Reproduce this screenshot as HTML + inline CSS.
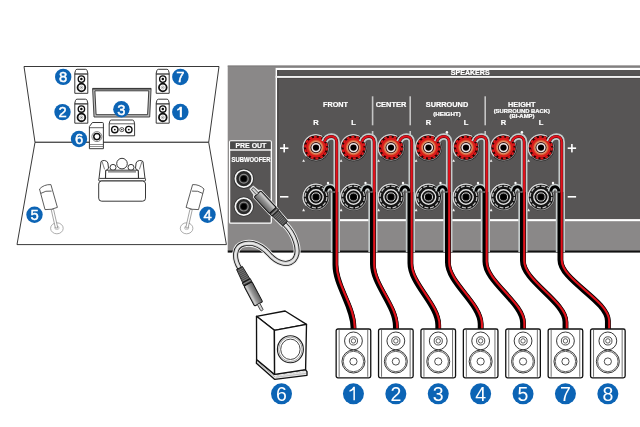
<!DOCTYPE html>
<html><head><meta charset="utf-8"><title>Speaker connection</title><style>html,body{margin:0;padding:0;background:#fff;}body{width:640px;height:427px;overflow:hidden;font-family:"Liberation Sans", sans-serif;}svg{display:block;transform:translateZ(0);}</style></head><body><svg width="640" height="427" viewBox="0 0 640 427"><defs><radialGradient id="redg" cx="0.5" cy="0.5" r="0.5"><stop offset="0.66" stop-color="#eaa680"/><stop offset="0.8" stop-color="#dc6a40"/><stop offset="0.93" stop-color="#da2418"/><stop offset="1" stop-color="#dc1818"/></radialGradient><linearGradient id="plugg" x1="0" y1="0" x2="0" y2="1"><stop offset="0" stop-color="#5e5e5e"/><stop offset="0.55" stop-color="#9a9a9a"/><stop offset="0.82" stop-color="#cdcdcd"/><stop offset="1" stop-color="#8a8a8a"/></linearGradient></defs><g fill="none" stroke="#222" stroke-width="0.9" stroke-linejoin="round"><polygon points="24,66.5 219,66.5 208.7,142.3 35,142.3" fill="#fff"/><polygon points="35,142.3 208.7,142.3 226.4,244.6 17,244.6" fill="#fff"/></g><g transform="translate(74.8,69.3)"><path d="M2.3,0 H10.7 Q11.9,0 12.3,1.2 L13,3.9 V24 H0 V3.9 L0.7,1.2 Q1.1,0 2.3,0 Z" fill="#fff" stroke="#222" stroke-width="0.9"/><line x1="0" y1="4.7" x2="13" y2="4.7" stroke="#111" stroke-width="1.1"/><circle cx="6.6" cy="9.8" r="3.2" fill="#fff" stroke="#111" stroke-width="1.35"/><circle cx="6.6" cy="9.8" r="1.25" fill="#111"/><circle cx="6.6" cy="18.2" r="3.85" fill="#fff" stroke="#111" stroke-width="1.8"/><circle cx="6.6" cy="18.2" r="1.5" fill="#fff" stroke="#888" stroke-width="0.6"/><circle cx="6.6" cy="18.2" r="0.6" fill="#666"/></g><g transform="translate(74.8,99.2)"><path d="M2.3,0 H10.7 Q11.9,0 12.3,1.2 L13,3.9 V24 H0 V3.9 L0.7,1.2 Q1.1,0 2.3,0 Z" fill="#fff" stroke="#222" stroke-width="0.9"/><line x1="0" y1="4.7" x2="13" y2="4.7" stroke="#111" stroke-width="1.1"/><circle cx="6.6" cy="9.8" r="3.2" fill="#fff" stroke="#111" stroke-width="1.35"/><circle cx="6.6" cy="9.8" r="1.25" fill="#111"/><circle cx="6.6" cy="18.2" r="3.85" fill="#fff" stroke="#111" stroke-width="1.8"/><circle cx="6.6" cy="18.2" r="1.5" fill="#fff" stroke="#888" stroke-width="0.6"/><circle cx="6.6" cy="18.2" r="0.6" fill="#666"/></g><g transform="translate(156.2,69.3)"><path d="M2.3,0 H10.7 Q11.9,0 12.3,1.2 L13,3.9 V24 H0 V3.9 L0.7,1.2 Q1.1,0 2.3,0 Z" fill="#fff" stroke="#222" stroke-width="0.9"/><line x1="0" y1="4.7" x2="13" y2="4.7" stroke="#111" stroke-width="1.1"/><circle cx="6.6" cy="9.8" r="3.2" fill="#fff" stroke="#111" stroke-width="1.35"/><circle cx="6.6" cy="9.8" r="1.25" fill="#111"/><circle cx="6.6" cy="18.2" r="3.85" fill="#fff" stroke="#111" stroke-width="1.8"/><circle cx="6.6" cy="18.2" r="1.5" fill="#fff" stroke="#888" stroke-width="0.6"/><circle cx="6.6" cy="18.2" r="0.6" fill="#666"/></g><g transform="translate(156.2,99.2)"><path d="M2.3,0 H10.7 Q11.9,0 12.3,1.2 L13,3.9 V24 H0 V3.9 L0.7,1.2 Q1.1,0 2.3,0 Z" fill="#fff" stroke="#222" stroke-width="0.9"/><line x1="0" y1="4.7" x2="13" y2="4.7" stroke="#111" stroke-width="1.1"/><circle cx="6.6" cy="9.8" r="3.2" fill="#fff" stroke="#111" stroke-width="1.35"/><circle cx="6.6" cy="9.8" r="1.25" fill="#111"/><circle cx="6.6" cy="18.2" r="3.85" fill="#fff" stroke="#111" stroke-width="1.8"/><circle cx="6.6" cy="18.2" r="1.5" fill="#fff" stroke="#888" stroke-width="0.6"/><circle cx="6.6" cy="18.2" r="0.6" fill="#666"/></g><polygon points="92.6,88.4 151.1,88.4 149.7,117 94,117" fill="#bdbdbd" stroke="#333" stroke-width="0.9" stroke-linejoin="round"/><line x1="92.8" y1="88.9" x2="150.9" y2="88.9" stroke="#333" stroke-width="1.2"/><polygon points="94.9,90.8 148.8,90.8 147.6,114.7 96.1,114.7" fill="#fff" stroke="#2a2a2a" stroke-width="0.9"/><g transform="translate(109.2,120)"><path d="M2.2,0 H23.2 Q24.4,0 24.8,1.2 L25.4,3.8 V15.8 H0 V3.8 L0.6,1.2 Q1,0 2.2,0 Z" fill="#fff" stroke="#222" stroke-width="0.9"/><line x1="0" y1="3.8" x2="25.4" y2="3.8" stroke="#222" stroke-width="0.7"/><circle cx="5.6" cy="9.6" r="3.2" fill="#fff" stroke="#111" stroke-width="1.4"/><circle cx="5.6" cy="9.6" r="0.9" fill="#111"/><circle cx="12.6" cy="9.6" r="2.1" fill="#fff" stroke="#333" stroke-width="0.8"/><circle cx="12.6" cy="9.6" r="0.8" fill="#333"/><circle cx="19.6" cy="9.6" r="3.2" fill="#fff" stroke="#111" stroke-width="1.4"/><circle cx="19.6" cy="9.6" r="0.9" fill="#111"/></g><g transform="translate(89.4,122.5)"><path d="M3,0 H13 Q14,0 14,1 V26.2 H0 V4 Z" fill="#fff" stroke="#222" stroke-width="0.9"/><line x1="0" y1="5.2" x2="14" y2="5.2" stroke="#222" stroke-width="0.7"/><circle cx="7.5" cy="14.1" r="5" fill="#fff" stroke="#777" stroke-width="0.9"/><circle cx="7.5" cy="14.1" r="3.1" fill="#fff" stroke="#111" stroke-width="1.5"/><line x1="0" y1="22" x2="14" y2="22" stroke="#444" stroke-width="0.6"/><line x1="0" y1="24" x2="14" y2="24" stroke="#444" stroke-width="0.6"/></g><g fill="#fff" stroke="#222" stroke-width="0.9" stroke-linejoin="round"><circle cx="113" cy="167.4" r="3"/><circle cx="131" cy="167.4" r="3"/><circle cx="122" cy="163.6" r="5.3"/><rect x="105.6" y="170.2" width="32.8" height="8.6" rx="0.8"/><line x1="108" y1="171.9" x2="136" y2="171.9" stroke-width="0.8"/><path d="M99,178.6 L101,161.6 Q102.4,160.2 104.6,160.5 Q107.2,160.9 107.9,163 L108.5,168 Q107.8,170.1 105.7,170.3 L105.4,178.6"/><path d="M102,161.4 Q103.2,165 104.6,169.4" fill="none" stroke-width="0.6"/><g transform="translate(244,0) scale(-1,1)"><path d="M99,178.6 L101,161.6 Q102.4,160.2 104.6,160.5 Q107.2,160.9 107.9,163 L108.5,168 Q107.8,170.1 105.7,170.3 L105.4,178.6"/><path d="M102,161.4 Q103.2,165 104.6,169.4" fill="none" stroke-width="0.6"/></g><rect x="98.7" y="178.4" width="46.8" height="2.6" rx="0.8"/><rect x="98.7" y="181" width="46.8" height="20.2" rx="3"/></g><g fill="#fff" stroke="#333" stroke-width="0.8" stroke-linejoin="round"><ellipse cx="56.9" cy="228.3" rx="6.3" ry="5.5" stroke="#999"/><ellipse cx="56.9" cy="227.9" rx="2.2" ry="1.7" stroke="#aaa" stroke-width="0.6"/><path d="M51.2,209.5 L55.4,228 L57.8,228 L53.6,209.5 Z" stroke="#666" stroke-width="0.6"/><path d="M39.5,189 Q44,184.3 50.9,184.6 L57.4,207.4 Q51.5,210 45,209.6 Z"/><path d="M40.8,193.4 Q45.5,190.3 51.6,191.1" fill="none"/></g><g transform="translate(243.5,0) scale(-1,1)"><g fill="#fff" stroke="#333" stroke-width="0.8" stroke-linejoin="round"><ellipse cx="56.9" cy="228.3" rx="6.3" ry="5.5" stroke="#999"/><ellipse cx="56.9" cy="227.9" rx="2.2" ry="1.7" stroke="#aaa" stroke-width="0.6"/><path d="M51.2,209.5 L55.4,228 L57.8,228 L53.6,209.5 Z" stroke="#666" stroke-width="0.6"/><path d="M39.5,189 Q44,184.3 50.9,184.6 L57.4,207.4 Q51.5,210 45,209.6 Z"/><path d="M40.8,193.4 Q45.5,190.3 51.6,191.1" fill="none"/></g></g><circle cx="63.2" cy="76.9" r="8.2" fill="#0c64b5"/><text x="63.2" y="82.22800000000001" font-size="14.8" font-weight="normal" fill="#fff" stroke="#fff" stroke-width="0.45" text-anchor="middle" font-family='"Liberation Sans", sans-serif'>8</text><circle cx="62.5" cy="112.1" r="8.2" fill="#0c64b5"/><text x="62.5" y="117.428" font-size="14.8" font-weight="normal" fill="#fff" stroke="#fff" stroke-width="0.45" text-anchor="middle" font-family='"Liberation Sans", sans-serif'>2</text><circle cx="180.4" cy="76.9" r="8.25" fill="#0c64b5"/><text x="180.4" y="82.22800000000001" font-size="14.8" font-weight="normal" fill="#fff" stroke="#fff" stroke-width="0.45" text-anchor="middle" font-family='"Liberation Sans", sans-serif'>7</text><circle cx="180.3" cy="112.1" r="8.25" fill="#0c64b5"/><path d="M179.8,106.69999999999999 H181.9 V117.3 H179.8 V109.39999999999999 Q178.70000000000002,110.39999999999999 177.20000000000002,110.69999999999999 V108.89999999999999 Q179.10000000000002,108.5 179.8,106.69999999999999 Z" fill="#fff"/><circle cx="121.4" cy="109.3" r="8.2" fill="#0c64b5"/><text x="121.4" y="114.628" font-size="14.8" font-weight="normal" fill="#fff" stroke="#fff" stroke-width="0.45" text-anchor="middle" font-family='"Liberation Sans", sans-serif'>3</text><circle cx="79" cy="139" r="8.2" fill="#0c64b5"/><text x="79" y="144.328" font-size="14.8" font-weight="normal" fill="#fff" stroke="#fff" stroke-width="0.45" text-anchor="middle" font-family='"Liberation Sans", sans-serif'>6</text><circle cx="34.5" cy="214.7" r="8.2" fill="#0c64b5"/><text x="34.5" y="220.028" font-size="14.8" font-weight="normal" fill="#fff" stroke="#fff" stroke-width="0.45" text-anchor="middle" font-family='"Liberation Sans", sans-serif'>5</text><circle cx="207.5" cy="214.7" r="8.2" fill="#0c64b5"/><text x="207.5" y="220.028" font-size="14.8" font-weight="normal" fill="#fff" stroke="#fff" stroke-width="0.45" text-anchor="middle" font-family='"Liberation Sans", sans-serif'>4</text><rect x="227.7" y="65.6" width="413" height="185" fill="#8a8888"/><rect x="227.7" y="250.4" width="413" height="2.2" fill="#111"/><rect x="275.6" y="67.9" width="370" height="153.3" fill="#fff"/><rect x="277.2" y="70.0" width="370" height="149.1" fill="#575555"/><rect x="277.2" y="74.9" width="370" height="1.0" fill="#3f3f3f"/><rect x="277.2" y="70" width="1.4" height="149.1" fill="#474545"/><rect x="277.2" y="77.9" width="370" height="0.8" fill="#4a4848"/><rect x="275.6" y="75.9" width="370" height="2.0" fill="#f2f2f2"/><rect x="227.7" y="65.6" width="413" height="0.9" fill="#7a7878"/><text x="470.2" y="75.2" font-size="7" font-weight="bold" fill="#fff" stroke="#fff" stroke-width="0.22" text-anchor="middle" font-family='"Liberation Sans", sans-serif' textLength="38.8" lengthAdjust="spacingAndGlyphs">SPEAKERS</text><text x="335.5" y="107" font-size="7.9" font-weight="bold" fill="#fff" stroke="#fff" stroke-width="0.22" text-anchor="middle" font-family='"Liberation Sans", sans-serif' textLength="25" lengthAdjust="spacingAndGlyphs">FRONT</text><text x="391" y="107" font-size="7.9" font-weight="bold" fill="#fff" stroke="#fff" stroke-width="0.22" text-anchor="middle" font-family='"Liberation Sans", sans-serif' textLength="30.5" lengthAdjust="spacingAndGlyphs">CENTER</text><text x="447" y="107" font-size="7.9" font-weight="bold" fill="#fff" stroke="#fff" stroke-width="0.22" text-anchor="middle" font-family='"Liberation Sans", sans-serif' textLength="42.5" lengthAdjust="spacingAndGlyphs">SURROUND</text><text x="447" y="115.6" font-size="5.4" font-weight="bold" fill="#fff" stroke="#fff" stroke-width="0.22" text-anchor="middle" font-family='"Liberation Sans", sans-serif' textLength="27.5" lengthAdjust="spacingAndGlyphs">(HEIGHT)</text><text x="521.8" y="107" font-size="7.9" font-weight="bold" fill="#fff" stroke="#fff" stroke-width="0.22" text-anchor="middle" font-family='"Liberation Sans", sans-serif' textLength="27.5" lengthAdjust="spacingAndGlyphs">HEIGHT</text><text x="521.8" y="113.1" font-size="5.4" font-weight="bold" fill="#fff" stroke="#fff" stroke-width="0.22" text-anchor="middle" font-family='"Liberation Sans", sans-serif' textLength="56.3" lengthAdjust="spacingAndGlyphs">(SURROUND BACK)</text><text x="522" y="118.2" font-size="5.4" font-weight="bold" fill="#fff" stroke="#fff" stroke-width="0.22" text-anchor="middle" font-family='"Liberation Sans", sans-serif' textLength="25" lengthAdjust="spacingAndGlyphs">(BI-AMP)</text><rect x="371.8" y="96.3" width="1.6" height="29" fill="#c4c4c4"/><rect x="371.8" y="131" width="1.6" height="4" fill="#c4c4c4"/><rect x="409.4" y="96.3" width="1.6" height="29" fill="#c4c4c4"/><rect x="409.4" y="131" width="1.6" height="4" fill="#c4c4c4"/><rect x="484.4" y="96.3" width="1.6" height="29" fill="#c4c4c4"/><rect x="484.4" y="131" width="1.6" height="4" fill="#c4c4c4"/><text x="316.0" y="125.3" font-size="7.5" font-weight="bold" fill="#fff" stroke="#fff" stroke-width="0.22" text-anchor="middle" font-family='"Liberation Sans", sans-serif'>R</text><text x="353.5" y="125.3" font-size="7.5" font-weight="bold" fill="#fff" stroke="#fff" stroke-width="0.22" text-anchor="middle" font-family='"Liberation Sans", sans-serif'>L</text><text x="428.5" y="125.3" font-size="7.5" font-weight="bold" fill="#fff" stroke="#fff" stroke-width="0.22" text-anchor="middle" font-family='"Liberation Sans", sans-serif'>R</text><text x="466.0" y="125.3" font-size="7.5" font-weight="bold" fill="#fff" stroke="#fff" stroke-width="0.22" text-anchor="middle" font-family='"Liberation Sans", sans-serif'>L</text><text x="503.5" y="125.3" font-size="7.5" font-weight="bold" fill="#fff" stroke="#fff" stroke-width="0.22" text-anchor="middle" font-family='"Liberation Sans", sans-serif'>R</text><text x="541.0" y="125.3" font-size="7.5" font-weight="bold" fill="#fff" stroke="#fff" stroke-width="0.22" text-anchor="middle" font-family='"Liberation Sans", sans-serif'>L</text><rect x="280.0" y="147.4" width="8.4" height="1.6" fill="#fff"/><rect x="283.4" y="144" width="1.6" height="8.4" fill="#fff"/><rect x="280.0" y="196" width="8.4" height="1.6" fill="#fff"/><rect x="567.6999999999999" y="147.4" width="8.4" height="1.6" fill="#fff"/><rect x="571.1" y="144" width="1.6" height="8.4" fill="#fff"/><rect x="567.6999999999999" y="196" width="8.4" height="1.6" fill="#fff"/><rect x="229.6" y="140.9" width="41.7" height="82.2" rx="1.2" fill="#575555" stroke="#fff" stroke-width="1.3"/><rect x="230.2" y="141.5" width="40.4" height="7.6" fill="#4a4a4a"/><rect x="229.5" y="149.3" width="41.8" height="1.4" fill="#fff"/><text x="250.9" y="148.2" font-size="7.0" font-weight="bold" fill="#fff" stroke="#fff" stroke-width="0.22" text-anchor="middle" font-family='"Liberation Sans", sans-serif' textLength="31" lengthAdjust="spacingAndGlyphs">PRE OUT</text><text x="251" y="162.1" font-size="7.3" font-weight="bold" fill="#fff" stroke="#fff" stroke-width="0.22" text-anchor="middle" font-family='"Liberation Sans", sans-serif' textLength="39" lengthAdjust="spacingAndGlyphs">SUBWOOFER</text><circle cx="243.8" cy="178.7" r="10.2" fill="#363636"/><circle cx="243.8" cy="178.7" r="8.45" fill="#2a2a2a" stroke="#f6f6f6" stroke-width="1.7"/><circle cx="243.8" cy="178.7" r="4.4" fill="none" stroke="#8a8a8a" stroke-width="1.2"/><circle cx="243.8" cy="178.7" r="2.9" fill="#000"/><circle cx="243.8" cy="206.6" r="10.2" fill="#363636"/><circle cx="243.8" cy="206.6" r="8.45" fill="#2a2a2a" stroke="#f6f6f6" stroke-width="1.7"/><circle cx="243.8" cy="206.6" r="4.4" fill="none" stroke="#8a8a8a" stroke-width="1.2"/><circle cx="243.8" cy="206.6" r="2.9" fill="#000"/><g transform="translate(316.0,147.6)"><circle r="13.6" fill="#1c1c1c"/><circle r="12.8" fill="none" stroke="#8a8a8a" stroke-width="1.0"/><path d="M-9.5,8.7 A12.8,12.8 0 0 1 6,-11.3" fill="none" stroke="#cfcfcf" stroke-width="1.2"/><circle r="11.9" fill="#2a0202"/><circle r="10.9" fill="none" stroke="#dc1a1c" stroke-width="2.0" stroke-dasharray="2.9 1.99"/><circle r="10.0" fill="#dc1a1c"/><circle r="8.6" fill="url(#redg)"/><circle r="5.6" fill="#3a1010"/><circle r="3.9" fill="none" stroke="#e8e8e8" stroke-width="1.5"/><circle r="2.7" fill="#000"/><path d="M-13.8,14.2 h2.8 l-1.4,-2.6 z" fill="#f4f4f4"/></g><g transform="translate(316.0,197)"><circle r="13.7" fill="#141414"/><circle r="13.0" fill="none" stroke="#9a9a9a" stroke-width="1.05"/><path d="M-9.7,8.7 A13,13 0 0 1 6,-11.5" fill="none" stroke="#dadada" stroke-width="1.25"/><circle r="10.9" fill="none" stroke="#c2c2c2" stroke-width="1.3" stroke-dasharray="4.0 1.71"/><circle r="7.2" fill="none" stroke="#e2e2e2" stroke-width="1.4"/><circle r="4.1" fill="none" stroke="#d0d0d0" stroke-width="1.0"/><circle r="2.8" fill="#000"/><path d="M-13.8,14.2 h2.8 l-1.4,-2.6 z" fill="#f4f4f4"/></g><g transform="translate(353.5,147.6)"><circle r="13.6" fill="#1c1c1c"/><circle r="12.8" fill="none" stroke="#8a8a8a" stroke-width="1.0"/><path d="M-9.5,8.7 A12.8,12.8 0 0 1 6,-11.3" fill="none" stroke="#cfcfcf" stroke-width="1.2"/><circle r="11.9" fill="#2a0202"/><circle r="10.9" fill="none" stroke="#dc1a1c" stroke-width="2.0" stroke-dasharray="2.9 1.99"/><circle r="10.0" fill="#dc1a1c"/><circle r="8.6" fill="url(#redg)"/><circle r="5.6" fill="#3a1010"/><circle r="3.9" fill="none" stroke="#e8e8e8" stroke-width="1.5"/><circle r="2.7" fill="#000"/><path d="M-13.8,14.2 h2.8 l-1.4,-2.6 z" fill="#f4f4f4"/></g><g transform="translate(353.5,197)"><circle r="13.7" fill="#141414"/><circle r="13.0" fill="none" stroke="#9a9a9a" stroke-width="1.05"/><path d="M-9.7,8.7 A13,13 0 0 1 6,-11.5" fill="none" stroke="#dadada" stroke-width="1.25"/><circle r="10.9" fill="none" stroke="#c2c2c2" stroke-width="1.3" stroke-dasharray="4.0 1.71"/><circle r="7.2" fill="none" stroke="#e2e2e2" stroke-width="1.4"/><circle r="4.1" fill="none" stroke="#d0d0d0" stroke-width="1.0"/><circle r="2.8" fill="#000"/><path d="M-13.8,14.2 h2.8 l-1.4,-2.6 z" fill="#f4f4f4"/></g><g transform="translate(391.0,147.6)"><circle r="13.6" fill="#1c1c1c"/><circle r="12.8" fill="none" stroke="#8a8a8a" stroke-width="1.0"/><path d="M-9.5,8.7 A12.8,12.8 0 0 1 6,-11.3" fill="none" stroke="#cfcfcf" stroke-width="1.2"/><circle r="11.9" fill="#2a0202"/><circle r="10.9" fill="none" stroke="#dc1a1c" stroke-width="2.0" stroke-dasharray="2.9 1.99"/><circle r="10.0" fill="#dc1a1c"/><circle r="8.6" fill="url(#redg)"/><circle r="5.6" fill="#3a1010"/><circle r="3.9" fill="none" stroke="#e8e8e8" stroke-width="1.5"/><circle r="2.7" fill="#000"/><path d="M-13.8,14.2 h2.8 l-1.4,-2.6 z" fill="#f4f4f4"/></g><g transform="translate(391.0,197)"><circle r="13.7" fill="#141414"/><circle r="13.0" fill="none" stroke="#9a9a9a" stroke-width="1.05"/><path d="M-9.7,8.7 A13,13 0 0 1 6,-11.5" fill="none" stroke="#dadada" stroke-width="1.25"/><circle r="10.9" fill="none" stroke="#c2c2c2" stroke-width="1.3" stroke-dasharray="4.0 1.71"/><circle r="7.2" fill="none" stroke="#e2e2e2" stroke-width="1.4"/><circle r="4.1" fill="none" stroke="#d0d0d0" stroke-width="1.0"/><circle r="2.8" fill="#000"/><path d="M-13.8,14.2 h2.8 l-1.4,-2.6 z" fill="#f4f4f4"/></g><g transform="translate(428.5,147.6)"><circle r="13.6" fill="#1c1c1c"/><circle r="12.8" fill="none" stroke="#8a8a8a" stroke-width="1.0"/><path d="M-9.5,8.7 A12.8,12.8 0 0 1 6,-11.3" fill="none" stroke="#cfcfcf" stroke-width="1.2"/><circle r="11.9" fill="#2a0202"/><circle r="10.9" fill="none" stroke="#dc1a1c" stroke-width="2.0" stroke-dasharray="2.9 1.99"/><circle r="10.0" fill="#dc1a1c"/><circle r="8.6" fill="url(#redg)"/><circle r="5.6" fill="#3a1010"/><circle r="3.9" fill="none" stroke="#e8e8e8" stroke-width="1.5"/><circle r="2.7" fill="#000"/><path d="M-13.8,14.2 h2.8 l-1.4,-2.6 z" fill="#f4f4f4"/></g><g transform="translate(428.5,197)"><circle r="13.7" fill="#141414"/><circle r="13.0" fill="none" stroke="#9a9a9a" stroke-width="1.05"/><path d="M-9.7,8.7 A13,13 0 0 1 6,-11.5" fill="none" stroke="#dadada" stroke-width="1.25"/><circle r="10.9" fill="none" stroke="#c2c2c2" stroke-width="1.3" stroke-dasharray="4.0 1.71"/><circle r="7.2" fill="none" stroke="#e2e2e2" stroke-width="1.4"/><circle r="4.1" fill="none" stroke="#d0d0d0" stroke-width="1.0"/><circle r="2.8" fill="#000"/><path d="M-13.8,14.2 h2.8 l-1.4,-2.6 z" fill="#f4f4f4"/></g><g transform="translate(466.0,147.6)"><circle r="13.6" fill="#1c1c1c"/><circle r="12.8" fill="none" stroke="#8a8a8a" stroke-width="1.0"/><path d="M-9.5,8.7 A12.8,12.8 0 0 1 6,-11.3" fill="none" stroke="#cfcfcf" stroke-width="1.2"/><circle r="11.9" fill="#2a0202"/><circle r="10.9" fill="none" stroke="#dc1a1c" stroke-width="2.0" stroke-dasharray="2.9 1.99"/><circle r="10.0" fill="#dc1a1c"/><circle r="8.6" fill="url(#redg)"/><circle r="5.6" fill="#3a1010"/><circle r="3.9" fill="none" stroke="#e8e8e8" stroke-width="1.5"/><circle r="2.7" fill="#000"/><path d="M-13.8,14.2 h2.8 l-1.4,-2.6 z" fill="#f4f4f4"/></g><g transform="translate(466.0,197)"><circle r="13.7" fill="#141414"/><circle r="13.0" fill="none" stroke="#9a9a9a" stroke-width="1.05"/><path d="M-9.7,8.7 A13,13 0 0 1 6,-11.5" fill="none" stroke="#dadada" stroke-width="1.25"/><circle r="10.9" fill="none" stroke="#c2c2c2" stroke-width="1.3" stroke-dasharray="4.0 1.71"/><circle r="7.2" fill="none" stroke="#e2e2e2" stroke-width="1.4"/><circle r="4.1" fill="none" stroke="#d0d0d0" stroke-width="1.0"/><circle r="2.8" fill="#000"/><path d="M-13.8,14.2 h2.8 l-1.4,-2.6 z" fill="#f4f4f4"/></g><g transform="translate(503.5,147.6)"><circle r="13.6" fill="#1c1c1c"/><circle r="12.8" fill="none" stroke="#8a8a8a" stroke-width="1.0"/><path d="M-9.5,8.7 A12.8,12.8 0 0 1 6,-11.3" fill="none" stroke="#cfcfcf" stroke-width="1.2"/><circle r="11.9" fill="#2a0202"/><circle r="10.9" fill="none" stroke="#dc1a1c" stroke-width="2.0" stroke-dasharray="2.9 1.99"/><circle r="10.0" fill="#dc1a1c"/><circle r="8.6" fill="url(#redg)"/><circle r="5.6" fill="#3a1010"/><circle r="3.9" fill="none" stroke="#e8e8e8" stroke-width="1.5"/><circle r="2.7" fill="#000"/><path d="M-13.8,14.2 h2.8 l-1.4,-2.6 z" fill="#f4f4f4"/></g><g transform="translate(503.5,197)"><circle r="13.7" fill="#141414"/><circle r="13.0" fill="none" stroke="#9a9a9a" stroke-width="1.05"/><path d="M-9.7,8.7 A13,13 0 0 1 6,-11.5" fill="none" stroke="#dadada" stroke-width="1.25"/><circle r="10.9" fill="none" stroke="#c2c2c2" stroke-width="1.3" stroke-dasharray="4.0 1.71"/><circle r="7.2" fill="none" stroke="#e2e2e2" stroke-width="1.4"/><circle r="4.1" fill="none" stroke="#d0d0d0" stroke-width="1.0"/><circle r="2.8" fill="#000"/><path d="M-13.8,14.2 h2.8 l-1.4,-2.6 z" fill="#f4f4f4"/></g><g transform="translate(541.0,147.6)"><circle r="13.6" fill="#1c1c1c"/><circle r="12.8" fill="none" stroke="#8a8a8a" stroke-width="1.0"/><path d="M-9.5,8.7 A12.8,12.8 0 0 1 6,-11.3" fill="none" stroke="#cfcfcf" stroke-width="1.2"/><circle r="11.9" fill="#2a0202"/><circle r="10.9" fill="none" stroke="#dc1a1c" stroke-width="2.0" stroke-dasharray="2.9 1.99"/><circle r="10.0" fill="#dc1a1c"/><circle r="8.6" fill="url(#redg)"/><circle r="5.6" fill="#3a1010"/><circle r="3.9" fill="none" stroke="#e8e8e8" stroke-width="1.5"/><circle r="2.7" fill="#000"/><path d="M-13.8,14.2 h2.8 l-1.4,-2.6 z" fill="#f4f4f4"/></g><g transform="translate(541.0,197)"><circle r="13.7" fill="#141414"/><circle r="13.0" fill="none" stroke="#9a9a9a" stroke-width="1.05"/><path d="M-9.7,8.7 A13,13 0 0 1 6,-11.5" fill="none" stroke="#dadada" stroke-width="1.25"/><circle r="10.9" fill="none" stroke="#c2c2c2" stroke-width="1.3" stroke-dasharray="4.0 1.71"/><circle r="7.2" fill="none" stroke="#e2e2e2" stroke-width="1.4"/><circle r="4.1" fill="none" stroke="#d0d0d0" stroke-width="1.0"/><circle r="2.8" fill="#000"/><path d="M-13.8,14.2 h2.8 l-1.4,-2.6 z" fill="#f4f4f4"/></g><path d="M324.5,141.6 C326.5,135.1 336.7,134.1 336.7,142.1 L336.7,193" fill="none" stroke="#c4cbcb" stroke-width="6.5"/><path d="M325.8,191.5 C326.5,185.5 333.8,185 333.8,191.5" fill="none" stroke="#c4cbcb" stroke-width="6.2"/><path d="M335.4,192.5 L335.4,252" fill="none" stroke="#c4cbcb" stroke-width="9.2"/><path d="M325.8,191.5 C326.5,185.5 333.8,185 333.8,191.5" fill="none" stroke="#000" stroke-width="2.9"/><path d="M335.4,192.5 L335.4,264.75 C335.4,285.58 353.45,306.42 353.45,327.25 L353.45,331" fill="none" stroke="#000" stroke-width="5.8"/><path d="M324.5,141.6 C326.5,135.1 336.7,134.1 336.7,142.1 L336.7,193" fill="none" stroke="#2a0505" stroke-width="3.0"/><path d="M324.5,141.6 C326.5,135.1 336.7,134.1 336.7,142.1 L336.7,193" fill="none" stroke="#e3121c" stroke-width="2.2"/><path d="M336.7,192 L336.7,264.75 C336.7,285.58 354.75,306.42 354.75,327.25 L354.75,331" fill="none" stroke="#2a0505" stroke-width="2.8"/><path d="M336.7,192 L336.7,264.75 C336.7,285.58 354.75,306.42 354.75,327.25 L354.75,331" fill="none" stroke="#e3121c" stroke-width="2.0"/><circle cx="328.0" cy="183" r="1.2" fill="#fff"/><path d="M362.0,141.6 C364.0,135.1 374.2,134.1 374.2,142.1 L374.2,193" fill="none" stroke="#c4cbcb" stroke-width="6.5"/><path d="M363.3,191.5 C364.0,185.5 371.3,185 371.3,191.5" fill="none" stroke="#c4cbcb" stroke-width="6.2"/><path d="M372.9,192.5 L372.9,252" fill="none" stroke="#c4cbcb" stroke-width="9.2"/><path d="M363.3,191.5 C364.0,185.5 371.3,185 371.3,191.5" fill="none" stroke="#000" stroke-width="2.9"/><path d="M372.9,192.5 L372.9,263.95 C372.9,284.70 395.84999999999997,305.45 395.84999999999997,326.20 L395.84999999999997,331" fill="none" stroke="#000" stroke-width="5.8"/><path d="M362.0,141.6 C364.0,135.1 374.2,134.1 374.2,142.1 L374.2,193" fill="none" stroke="#2a0505" stroke-width="3.0"/><path d="M362.0,141.6 C364.0,135.1 374.2,134.1 374.2,142.1 L374.2,193" fill="none" stroke="#e3121c" stroke-width="2.2"/><path d="M374.2,192 L374.2,263.95 C374.2,284.70 397.15,305.45 397.15,326.20 L397.15,331" fill="none" stroke="#2a0505" stroke-width="2.8"/><path d="M374.2,192 L374.2,263.95 C374.2,284.70 397.15,305.45 397.15,326.20 L397.15,331" fill="none" stroke="#e3121c" stroke-width="2.0"/><circle cx="365.5" cy="183" r="1.2" fill="#fff"/><path d="M399.5,141.6 C401.5,135.1 411.7,134.1 411.7,142.1 L411.7,193" fill="none" stroke="#c4cbcb" stroke-width="6.5"/><path d="M400.8,191.5 C401.5,185.5 408.8,185 408.8,191.5" fill="none" stroke="#c4cbcb" stroke-width="6.2"/><path d="M410.4,192.5 L410.4,252" fill="none" stroke="#c4cbcb" stroke-width="9.2"/><path d="M400.8,191.5 C401.5,185.5 408.8,185 408.8,191.5" fill="none" stroke="#000" stroke-width="2.9"/><path d="M410.4,192.5 L410.4,263.15 C410.4,283.82 438.25,304.48 438.25,325.15 L438.25,331" fill="none" stroke="#000" stroke-width="5.8"/><path d="M399.5,141.6 C401.5,135.1 411.7,134.1 411.7,142.1 L411.7,193" fill="none" stroke="#2a0505" stroke-width="3.0"/><path d="M399.5,141.6 C401.5,135.1 411.7,134.1 411.7,142.1 L411.7,193" fill="none" stroke="#e3121c" stroke-width="2.2"/><path d="M411.7,192 L411.7,263.15 C411.7,283.82 439.55,304.48 439.55,325.15 L439.55,331" fill="none" stroke="#2a0505" stroke-width="2.8"/><path d="M411.7,192 L411.7,263.15 C411.7,283.82 439.55,304.48 439.55,325.15 L439.55,331" fill="none" stroke="#e3121c" stroke-width="2.0"/><circle cx="403.0" cy="183" r="1.2" fill="#fff"/><path d="M437.0,141.6 C439.0,135.1 449.2,134.1 449.2,142.1 L449.2,193" fill="none" stroke="#c4cbcb" stroke-width="6.5"/><path d="M438.3,191.5 C439.0,185.5 446.3,185 446.3,191.5" fill="none" stroke="#c4cbcb" stroke-width="6.2"/><path d="M447.9,192.5 L447.9,252" fill="none" stroke="#c4cbcb" stroke-width="9.2"/><path d="M438.3,191.5 C439.0,185.5 446.3,185 446.3,191.5" fill="none" stroke="#000" stroke-width="2.9"/><path d="M447.9,192.5 L447.9,262.35 C447.9,282.93 480.65,303.52 480.65,324.10 L480.65,331" fill="none" stroke="#000" stroke-width="5.8"/><path d="M437.0,141.6 C439.0,135.1 449.2,134.1 449.2,142.1 L449.2,193" fill="none" stroke="#2a0505" stroke-width="3.0"/><path d="M437.0,141.6 C439.0,135.1 449.2,134.1 449.2,142.1 L449.2,193" fill="none" stroke="#e3121c" stroke-width="2.2"/><path d="M449.2,192 L449.2,262.35 C449.2,282.93 481.95,303.52 481.95,324.10 L481.95,331" fill="none" stroke="#2a0505" stroke-width="2.8"/><path d="M449.2,192 L449.2,262.35 C449.2,282.93 481.95,303.52 481.95,324.10 L481.95,331" fill="none" stroke="#e3121c" stroke-width="2.0"/><circle cx="440.5" cy="183" r="1.2" fill="#fff"/><circle cx="446.9" cy="132.4" r="1.3" fill="#fff"/><path d="M474.5,141.6 C476.5,135.1 486.7,134.1 486.7,142.1 L486.7,193" fill="none" stroke="#c4cbcb" stroke-width="6.5"/><path d="M475.8,191.5 C476.5,185.5 483.8,185 483.8,191.5" fill="none" stroke="#c4cbcb" stroke-width="6.2"/><path d="M485.4,192.5 L485.4,252" fill="none" stroke="#c4cbcb" stroke-width="9.2"/><path d="M475.8,191.5 C476.5,185.5 483.8,185 483.8,191.5" fill="none" stroke="#000" stroke-width="2.9"/><path d="M485.4,192.5 L485.4,261.55 C485.4,282.05 523.05,302.55 523.05,323.05 L523.05,331" fill="none" stroke="#000" stroke-width="5.8"/><path d="M474.5,141.6 C476.5,135.1 486.7,134.1 486.7,142.1 L486.7,193" fill="none" stroke="#2a0505" stroke-width="3.0"/><path d="M474.5,141.6 C476.5,135.1 486.7,134.1 486.7,142.1 L486.7,193" fill="none" stroke="#e3121c" stroke-width="2.2"/><path d="M486.7,192 L486.7,261.55 C486.7,282.05 524.3499999999999,302.55 524.3499999999999,323.05 L524.3499999999999,331" fill="none" stroke="#2a0505" stroke-width="2.8"/><path d="M486.7,192 L486.7,261.55 C486.7,282.05 524.3499999999999,302.55 524.3499999999999,323.05 L524.3499999999999,331" fill="none" stroke="#e3121c" stroke-width="2.0"/><circle cx="478.0" cy="183" r="1.2" fill="#fff"/><path d="M512.0,141.6 C514.0,135.1 524.2,134.1 524.2,142.1 L524.2,193" fill="none" stroke="#c4cbcb" stroke-width="6.5"/><path d="M513.3,191.5 C514.0,185.5 521.3,185 521.3,191.5" fill="none" stroke="#c4cbcb" stroke-width="6.2"/><path d="M522.9,192.5 L522.9,252" fill="none" stroke="#c4cbcb" stroke-width="9.2"/><path d="M513.3,191.5 C514.0,185.5 521.3,185 521.3,191.5" fill="none" stroke="#000" stroke-width="2.9"/><path d="M522.9,192.5 L522.9,260.75 C522.9,281.17 565.45,301.58 565.45,322.00 L565.45,331" fill="none" stroke="#000" stroke-width="5.8"/><path d="M512.0,141.6 C514.0,135.1 524.2,134.1 524.2,142.1 L524.2,193" fill="none" stroke="#2a0505" stroke-width="3.0"/><path d="M512.0,141.6 C514.0,135.1 524.2,134.1 524.2,142.1 L524.2,193" fill="none" stroke="#e3121c" stroke-width="2.2"/><path d="M524.2,192 L524.2,260.75 C524.2,281.17 566.75,301.58 566.75,322.00 L566.75,331" fill="none" stroke="#2a0505" stroke-width="2.8"/><path d="M524.2,192 L524.2,260.75 C524.2,281.17 566.75,301.58 566.75,322.00 L566.75,331" fill="none" stroke="#e3121c" stroke-width="2.0"/><circle cx="515.5" cy="183" r="1.2" fill="#fff"/><circle cx="521.9" cy="132.4" r="1.3" fill="#fff"/><path d="M549.5,141.6 C551.5,135.1 561.7,134.1 561.7,142.1 L561.7,193" fill="none" stroke="#c4cbcb" stroke-width="6.5"/><path d="M550.8,191.5 C551.5,185.5 558.8,185 558.8,191.5" fill="none" stroke="#c4cbcb" stroke-width="6.2"/><path d="M560.4,192.5 L560.4,252" fill="none" stroke="#c4cbcb" stroke-width="9.2"/><path d="M550.8,191.5 C551.5,185.5 558.8,185 558.8,191.5" fill="none" stroke="#000" stroke-width="2.9"/><path d="M560.4,192.5 L560.4,259.95 C560.4,280.28 607.8499999999999,300.62 607.8499999999999,320.95 L607.8499999999999,331" fill="none" stroke="#000" stroke-width="5.8"/><path d="M549.5,141.6 C551.5,135.1 561.7,134.1 561.7,142.1 L561.7,193" fill="none" stroke="#2a0505" stroke-width="3.0"/><path d="M549.5,141.6 C551.5,135.1 561.7,134.1 561.7,142.1 L561.7,193" fill="none" stroke="#e3121c" stroke-width="2.2"/><path d="M561.7,192 L561.7,259.95 C561.7,280.28 609.1499999999999,300.62 609.1499999999999,320.95 L609.1499999999999,331" fill="none" stroke="#2a0505" stroke-width="2.8"/><path d="M561.7,192 L561.7,259.95 C561.7,280.28 609.1499999999999,300.62 609.1499999999999,320.95 L609.1499999999999,331" fill="none" stroke="#e3121c" stroke-width="2.0"/><circle cx="553.0" cy="183" r="1.2" fill="#fff"/><rect x="278" y="219" width="370" height="0" fill="none"/><path d="M284.5,224 C294,233 301.5,251 294,260 C287.5,266.5 277,263.5 268.5,253.5 C261.5,246 252.5,241.5 243.5,244 C234,246.5 233.5,258 239.5,268" fill="none" stroke="#eeeeee" stroke-width="7.0" stroke-linecap="round"/><path d="M284.5,224 C294,233 301.5,251 294,260 C287.5,266.5 277,263.5 268.5,253.5 C261.5,246 252.5,241.5 243.5,244 C234,246.5 233.5,258 239.5,268" fill="none" stroke="#1a1a1a" stroke-width="5.0" stroke-linecap="round"/><path d="M284.5,224 C294,233 301.5,251 294,260 C287.5,266.5 277,263.5 268.5,253.5 C261.5,246 252.5,241.5 243.5,244 C234,246.5 233.5,258 239.5,268" fill="none" stroke="#cdcdcd" stroke-width="3.3" stroke-linecap="round"/><path d="M284.5,224 C294,233 301.5,251 294,260 C287.5,266.5 277,263.5 268.5,253.5 C261.5,246 252.5,241.5 243.5,244 C234,246.5 233.5,258 239.5,268" fill="none" stroke="#ebebeb" stroke-width="1.3" stroke-linecap="round"/><g transform="translate(285.2,223.7) rotate(227)"><path d="M0,-4.8 L14,-5.2 L18,-5.8 L41,-5.8 L43,-3.6 L49.8,-2.6 L49.8,2.6 L43,3.6 L41,5.8 L18,5.8 L14,5.2 L0,4.8 Z" fill="#e4e4e4"/><path d="M0,-3.3 L14.5,-4.1 L14.5,4.1 L0,3.3 Z" fill="#4a4a4a" stroke="#111" stroke-width="0.8"/><line x1="1.85" y1="-3.00" x2="1.85" y2="3.00" stroke="#8a8a8a" stroke-width="0.6"/><line x1="3.70" y1="-3.10" x2="3.70" y2="3.10" stroke="#8a8a8a" stroke-width="0.6"/><line x1="5.55" y1="-3.21" x2="5.55" y2="3.21" stroke="#8a8a8a" stroke-width="0.6"/><line x1="7.40" y1="-3.31" x2="7.40" y2="3.31" stroke="#8a8a8a" stroke-width="0.6"/><line x1="9.25" y1="-3.41" x2="9.25" y2="3.41" stroke="#8a8a8a" stroke-width="0.6"/><line x1="11.10" y1="-3.51" x2="11.10" y2="3.51" stroke="#8a8a8a" stroke-width="0.6"/><line x1="12.95" y1="-3.61" x2="12.95" y2="3.61" stroke="#8a8a8a" stroke-width="0.6"/><rect x="14.5" y="-4.5" width="3.6" height="9" fill="#3a3a3a" stroke="#111" stroke-width="0.8"/><rect x="15.3" y="-4" width="1.4" height="8" fill="#8a8a8a"/><rect x="18.1" y="-4.6" width="22.6" height="9.2" rx="1.3" fill="url(#plugg)" stroke="#111" stroke-width="0.95"/><rect x="40.4" y="-1.4" width="7.8" height="2.8" rx="1" fill="#d0d0d0" stroke="#222" stroke-width="0.7"/></g><g transform="translate(239.5,268) rotate(62)"><path d="M0,-3.3 L14.5,-4.1 L14.5,4.1 L0,3.3 Z" fill="#4a4a4a" stroke="#111" stroke-width="0.8"/><line x1="1.85" y1="-3.00" x2="1.85" y2="3.00" stroke="#8a8a8a" stroke-width="0.6"/><line x1="3.70" y1="-3.10" x2="3.70" y2="3.10" stroke="#8a8a8a" stroke-width="0.6"/><line x1="5.55" y1="-3.21" x2="5.55" y2="3.21" stroke="#8a8a8a" stroke-width="0.6"/><line x1="7.40" y1="-3.31" x2="7.40" y2="3.31" stroke="#8a8a8a" stroke-width="0.6"/><line x1="9.25" y1="-3.41" x2="9.25" y2="3.41" stroke="#8a8a8a" stroke-width="0.6"/><line x1="11.10" y1="-3.51" x2="11.10" y2="3.51" stroke="#8a8a8a" stroke-width="0.6"/><line x1="12.95" y1="-3.61" x2="12.95" y2="3.61" stroke="#8a8a8a" stroke-width="0.6"/><rect x="14.5" y="-4.5" width="3.6" height="9" fill="#3a3a3a" stroke="#111" stroke-width="0.8"/><rect x="15.3" y="-4" width="1.4" height="8" fill="#8a8a8a"/><rect x="18.1" y="-4.6" width="22.6" height="9.2" rx="1.3" fill="url(#plugg)" stroke="#111" stroke-width="0.95"/><rect x="40.4" y="-1.4" width="7.8" height="2.8" rx="1" fill="#d0d0d0" stroke="#222" stroke-width="0.7"/></g><g stroke="#111" stroke-width="1.35" stroke-linejoin="round" fill="#fff"><path d="M256.6,359.6 L274.6,374.4 L305.4,369.6 L307,371.6 L307,375.3 L274.8,379.4 L256.4,363.2 Z" fill="#e8e8e8"/><path d="M276,377.2 L305.8,373.4" stroke="#aaa" stroke-width="0.7"/><path d="M277,375.6 L304.5,371.6" stroke="#bbb" stroke-width="0.6" stroke-dasharray="2 1.2"/><path d="M258,362.6 L275.2,377" stroke="#999" stroke-width="0.7"/><path d="M256.5,316.3 L285.1,311 L306.5,324.4 L274.4,330.3 Z"/><path d="M256.5,316.3 L274.4,330.3 L274.6,374.4 L256.6,359.6 Z"/><path d="M274.4,330.3 L306.5,324.4 L305.6,369.6 L274.6,374.4 Z"/></g><ellipse cx="290.4" cy="349.3" rx="13" ry="13.5" fill="#fff" stroke="#222" stroke-width="1.1"/><ellipse cx="290.4" cy="349.3" rx="11.7" ry="12.2" fill="#fff" stroke="#999" stroke-width="0.9"/><ellipse cx="290.4" cy="349.3" rx="9.7" ry="10.2" fill="#fff" stroke="#333" stroke-width="0.9"/><g transform="translate(336.15,329)"><rect x="0" y="0" width="34.6" height="48.8" rx="1.8" fill="#fff" stroke="#111" stroke-width="1.3"/><line x1="3" y1="1" x2="3" y2="47.8" stroke="#333" stroke-width="0.7"/><line x1="31.6" y1="1" x2="31.6" y2="47.8" stroke="#333" stroke-width="0.7"/><circle cx="17.3" cy="11.9" r="8.9" fill="#fff" stroke="#222" stroke-width="0.9"/><circle cx="17.3" cy="11.9" r="4.1" fill="#fff" stroke="#222" stroke-width="0.8"/><circle cx="17.3" cy="11.9" r="2.2" fill="#fff" stroke="#222" stroke-width="0.7"/><circle cx="17.3" cy="32.5" r="11.5" fill="#fff" stroke="#222" stroke-width="0.9"/><circle cx="17.3" cy="32.5" r="10.2" fill="#fff" stroke="#222" stroke-width="0.7"/><circle cx="17.3" cy="32.5" r="3.6" fill="#fff" stroke="#222" stroke-width="0.8"/></g><g transform="translate(378.54999999999995,329)"><rect x="0" y="0" width="34.6" height="48.8" rx="1.8" fill="#fff" stroke="#111" stroke-width="1.3"/><line x1="3" y1="1" x2="3" y2="47.8" stroke="#333" stroke-width="0.7"/><line x1="31.6" y1="1" x2="31.6" y2="47.8" stroke="#333" stroke-width="0.7"/><circle cx="17.3" cy="11.9" r="8.9" fill="#fff" stroke="#222" stroke-width="0.9"/><circle cx="17.3" cy="11.9" r="4.1" fill="#fff" stroke="#222" stroke-width="0.8"/><circle cx="17.3" cy="11.9" r="2.2" fill="#fff" stroke="#222" stroke-width="0.7"/><circle cx="17.3" cy="32.5" r="11.5" fill="#fff" stroke="#222" stroke-width="0.9"/><circle cx="17.3" cy="32.5" r="10.2" fill="#fff" stroke="#222" stroke-width="0.7"/><circle cx="17.3" cy="32.5" r="3.6" fill="#fff" stroke="#222" stroke-width="0.8"/></g><g transform="translate(420.95,329)"><rect x="0" y="0" width="34.6" height="48.8" rx="1.8" fill="#fff" stroke="#111" stroke-width="1.3"/><line x1="3" y1="1" x2="3" y2="47.8" stroke="#333" stroke-width="0.7"/><line x1="31.6" y1="1" x2="31.6" y2="47.8" stroke="#333" stroke-width="0.7"/><circle cx="17.3" cy="11.9" r="8.9" fill="#fff" stroke="#222" stroke-width="0.9"/><circle cx="17.3" cy="11.9" r="4.1" fill="#fff" stroke="#222" stroke-width="0.8"/><circle cx="17.3" cy="11.9" r="2.2" fill="#fff" stroke="#222" stroke-width="0.7"/><circle cx="17.3" cy="32.5" r="11.5" fill="#fff" stroke="#222" stroke-width="0.9"/><circle cx="17.3" cy="32.5" r="10.2" fill="#fff" stroke="#222" stroke-width="0.7"/><circle cx="17.3" cy="32.5" r="3.6" fill="#fff" stroke="#222" stroke-width="0.8"/></g><g transform="translate(463.34999999999997,329)"><rect x="0" y="0" width="34.6" height="48.8" rx="1.8" fill="#fff" stroke="#111" stroke-width="1.3"/><line x1="3" y1="1" x2="3" y2="47.8" stroke="#333" stroke-width="0.7"/><line x1="31.6" y1="1" x2="31.6" y2="47.8" stroke="#333" stroke-width="0.7"/><circle cx="17.3" cy="11.9" r="8.9" fill="#fff" stroke="#222" stroke-width="0.9"/><circle cx="17.3" cy="11.9" r="4.1" fill="#fff" stroke="#222" stroke-width="0.8"/><circle cx="17.3" cy="11.9" r="2.2" fill="#fff" stroke="#222" stroke-width="0.7"/><circle cx="17.3" cy="32.5" r="11.5" fill="#fff" stroke="#222" stroke-width="0.9"/><circle cx="17.3" cy="32.5" r="10.2" fill="#fff" stroke="#222" stroke-width="0.7"/><circle cx="17.3" cy="32.5" r="3.6" fill="#fff" stroke="#222" stroke-width="0.8"/></g><g transform="translate(505.74999999999994,329)"><rect x="0" y="0" width="34.6" height="48.8" rx="1.8" fill="#fff" stroke="#111" stroke-width="1.3"/><line x1="3" y1="1" x2="3" y2="47.8" stroke="#333" stroke-width="0.7"/><line x1="31.6" y1="1" x2="31.6" y2="47.8" stroke="#333" stroke-width="0.7"/><circle cx="17.3" cy="11.9" r="8.9" fill="#fff" stroke="#222" stroke-width="0.9"/><circle cx="17.3" cy="11.9" r="4.1" fill="#fff" stroke="#222" stroke-width="0.8"/><circle cx="17.3" cy="11.9" r="2.2" fill="#fff" stroke="#222" stroke-width="0.7"/><circle cx="17.3" cy="32.5" r="11.5" fill="#fff" stroke="#222" stroke-width="0.9"/><circle cx="17.3" cy="32.5" r="10.2" fill="#fff" stroke="#222" stroke-width="0.7"/><circle cx="17.3" cy="32.5" r="3.6" fill="#fff" stroke="#222" stroke-width="0.8"/></g><g transform="translate(548.1500000000001,329)"><rect x="0" y="0" width="34.6" height="48.8" rx="1.8" fill="#fff" stroke="#111" stroke-width="1.3"/><line x1="3" y1="1" x2="3" y2="47.8" stroke="#333" stroke-width="0.7"/><line x1="31.6" y1="1" x2="31.6" y2="47.8" stroke="#333" stroke-width="0.7"/><circle cx="17.3" cy="11.9" r="8.9" fill="#fff" stroke="#222" stroke-width="0.9"/><circle cx="17.3" cy="11.9" r="4.1" fill="#fff" stroke="#222" stroke-width="0.8"/><circle cx="17.3" cy="11.9" r="2.2" fill="#fff" stroke="#222" stroke-width="0.7"/><circle cx="17.3" cy="32.5" r="11.5" fill="#fff" stroke="#222" stroke-width="0.9"/><circle cx="17.3" cy="32.5" r="10.2" fill="#fff" stroke="#222" stroke-width="0.7"/><circle cx="17.3" cy="32.5" r="3.6" fill="#fff" stroke="#222" stroke-width="0.8"/></g><g transform="translate(590.55,329)"><rect x="0" y="0" width="34.6" height="48.8" rx="1.8" fill="#fff" stroke="#111" stroke-width="1.3"/><line x1="3" y1="1" x2="3" y2="47.8" stroke="#333" stroke-width="0.7"/><line x1="31.6" y1="1" x2="31.6" y2="47.8" stroke="#333" stroke-width="0.7"/><circle cx="17.3" cy="11.9" r="8.9" fill="#fff" stroke="#222" stroke-width="0.9"/><circle cx="17.3" cy="11.9" r="4.1" fill="#fff" stroke="#222" stroke-width="0.8"/><circle cx="17.3" cy="11.9" r="2.2" fill="#fff" stroke="#222" stroke-width="0.7"/><circle cx="17.3" cy="32.5" r="11.5" fill="#fff" stroke="#222" stroke-width="0.9"/><circle cx="17.3" cy="32.5" r="10.2" fill="#fff" stroke="#222" stroke-width="0.7"/><circle cx="17.3" cy="32.5" r="3.6" fill="#fff" stroke="#222" stroke-width="0.8"/></g><circle cx="281.5" cy="393.8" r="10.5" fill="#0c64b5"/><text x="281.5" y="400.82" font-size="19.5" font-weight="normal" fill="#fff" text-anchor="middle" font-family='"Liberation Sans", sans-serif'>6</text><circle cx="353.45" cy="393.8" r="10.5" fill="#0c64b5"/><path d="M353.4,386.85 H354.9 V400.15000000000003 H353.4 V389.7 Q351.84999999999997,391.3 349.5,391.7 V390.3 Q352.15,389.5 353.4,386.85 Z" fill="#fff"/><circle cx="395.84999999999997" cy="393.8" r="10.5" fill="#0c64b5"/><text x="395.84999999999997" y="400.82" font-size="19.5" font-weight="normal" fill="#fff" text-anchor="middle" font-family='"Liberation Sans", sans-serif'>2</text><circle cx="438.25" cy="393.8" r="10.5" fill="#0c64b5"/><text x="438.25" y="400.82" font-size="19.5" font-weight="normal" fill="#fff" text-anchor="middle" font-family='"Liberation Sans", sans-serif'>3</text><circle cx="480.65" cy="393.8" r="10.5" fill="#0c64b5"/><text x="480.65" y="400.82" font-size="19.5" font-weight="normal" fill="#fff" text-anchor="middle" font-family='"Liberation Sans", sans-serif'>4</text><circle cx="523.05" cy="393.8" r="10.5" fill="#0c64b5"/><text x="523.05" y="400.82" font-size="19.5" font-weight="normal" fill="#fff" text-anchor="middle" font-family='"Liberation Sans", sans-serif'>5</text><circle cx="565.45" cy="393.8" r="10.5" fill="#0c64b5"/><text x="565.45" y="400.82" font-size="19.5" font-weight="normal" fill="#fff" text-anchor="middle" font-family='"Liberation Sans", sans-serif'>7</text><circle cx="607.8499999999999" cy="393.8" r="10.5" fill="#0c64b5"/><text x="607.8499999999999" y="400.82" font-size="19.5" font-weight="normal" fill="#fff" text-anchor="middle" font-family='"Liberation Sans", sans-serif'>8</text></svg></body></html>
